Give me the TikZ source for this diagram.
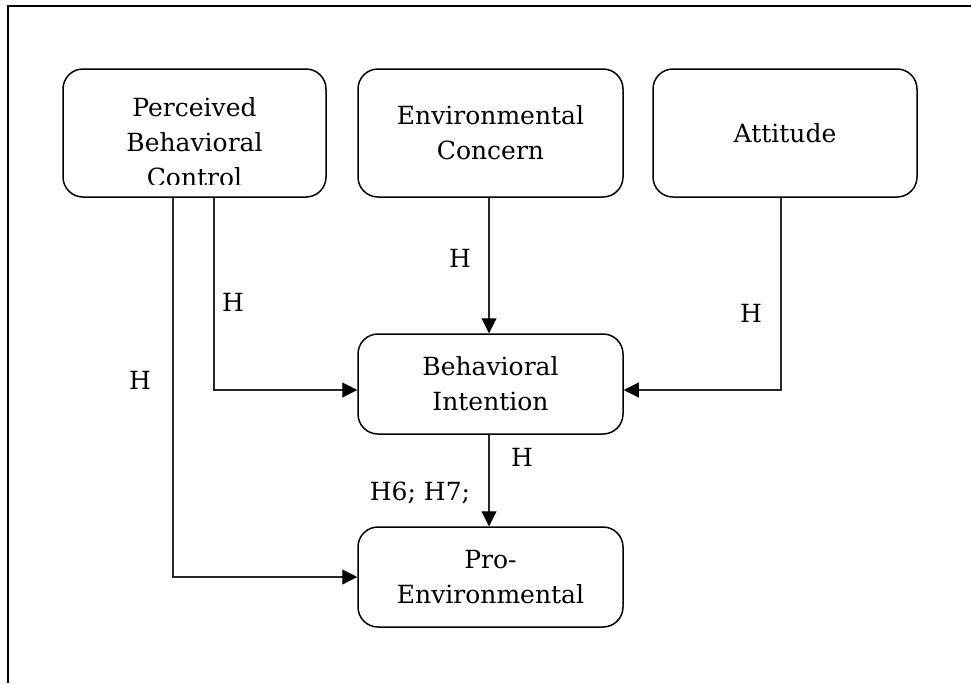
\documentclass[tikz,border=0pt]{standalone}
\usepackage{fontspec}
\setmainfont{DejaVu Serif}
\usetikzlibrary{arrows.meta}
\tikzset{
	box/.style={draw, line width=1.5pt, rounded corners=20pt, align=center, inner sep=0pt},
	conn/.style={line width=1.1pt, color=black!85, -{Triangle[length=15pt,width=15pt,color=black]}},
	lbl/.style={inner sep=0pt, font=\fontsize{25}{34}\selectfont}
}

\begin{document}
\begin{tikzpicture}[x=1pt, y=-1pt, font=\fontsize{25}{35}\selectfont]
		%%%%% START %%%%%
		\useasboundingbox (0, 0) rectangle (971, 683);
		
		\draw[line width=1.8pt] (971, 6) -- (8, 6) -- (8, 683);
		
		\node[box, minimum width=263pt, minimum height=128pt] (pbc) at (194.5, 133) {};
		\begin{scope}
			\clip (pbc.north west) rectangle ([yshift=13pt]pbc.south east);
			\node[align=center, inner sep=0pt] (pbctext) at (194.5, 142) {Perceived\\Behavioral\\Control};
		\end{scope}
		
		\node[box, minimum width=265pt, minimum height=128pt] (ec) at (490.5, 133) {Environmental\\Concern};
		\node[box, minimum width=264pt, minimum height=128pt] (att) at (785, 133) {Attitude};
		
		\node[box, minimum width=265pt, minimum height=100pt] (bi) at (490.5, 384) {Behavioral\\Intention};
		\node[box, minimum width=265pt, minimum height=100pt] (pro) at (490.5, 577) {Pro-\\Environmental};
		
		\draw[conn] ([xshift=-1.5pt]ec.south) -- ([xshift=-1.5pt]bi.north);
		\draw[conn] ([xshift=-1.5pt]bi.south) -- ([xshift=-1.5pt]pro.north);
		\draw[conn] ([xshift=19.5pt]pbc.south) |- ([yshift=-6pt]bi.west);
		\draw[conn] ([xshift=-21.5pt]pbc.south) |- (pro.west);
		\draw[conn] ([xshift=-4pt]att.south) |- ([yshift=-6pt]bi.east);
		
		\node[lbl] (h1) at (460, 258) {H};
		\node[lbl] (h2) at (233, 302) {H};
		\node[lbl] (h3) at (140, 380) {H};
		\node[lbl] (h4) at (751, 313) {H};
		\node[lbl] (h5) at (522, 457) {H};
		\node[lbl] (h6) at (420, 493) {H6; H7;};
		
		%%%%% END %%%%%
\end{tikzpicture}
\end{document}
